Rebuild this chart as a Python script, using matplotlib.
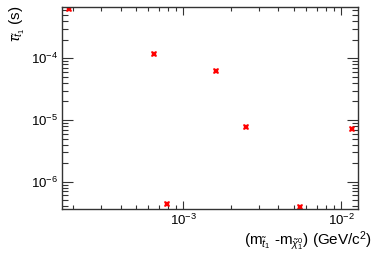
import matplotlib
matplotlib.use('Agg')
import matplotlib.pyplot as plt
from matplotlib.ticker import LogLocator, NullFormatter

plt.rcParams['font.family'] = 'Liberation Sans'
plt.rcParams['mathtext.fontset'] = 'custom'
plt.rcParams['mathtext.rm'] = 'Liberation Sans'
plt.rcParams['mathtext.it'] = 'Liberation Sans:italic'

# mass difference (GeV/c^2) and lifetime (s)
mass_diff = [1.89e-4, 6.49e-4, 7.91e-4, 1.60e-3, 2.49e-3, 5.48e-3, 1.17e-2]
lifetime = [6.22e-4, 1.16e-4, 4.30e-7, 6.15e-5, 7.78e-6, 3.89e-7, 7.06e-6]

W, H = 374, 256
fig = plt.figure(figsize=(W / 100, H / 100), dpi=100)
ax = fig.add_axes([62 / W, 1 - 209 / H, (358 - 62) / W, (209 - 7) / H])

ax.plot(mass_diff, lifetime, linestyle='none', marker='X', markersize=4.5,
        color='red', markeredgewidth=0)

ax.set_xscale('log')
ax.set_yscale('log')
ax.set_xlim(10 ** -3.770, 10 ** -1.893)
ax.set_ylim(10 ** -6.442, 10 ** -3.169)

ax.xaxis.set_major_locator(LogLocator(base=10))
ax.xaxis.set_minor_locator(LogLocator(base=10, subs=range(2, 10)))
ax.xaxis.set_minor_formatter(NullFormatter())
ax.yaxis.set_major_locator(LogLocator(base=10))
ax.yaxis.set_minor_locator(LogLocator(base=10, subs=range(2, 10)))
ax.yaxis.set_minor_formatter(NullFormatter())

ax.tick_params(which='both', direction='in', top=True, right=True,
               labelsize=9.5, color='#333333', width=0.8)
ax.tick_params(axis='x', which='major', length=6, pad=3)
ax.tick_params(axis='x', which='minor', length=3)
ax.tick_params(axis='y', which='major', length=8, pad=3)
ax.tick_params(axis='y', which='minor', length=4)
for s in ax.spines.values():
    s.set_color('#333333')
    s.set_linewidth(1.0)

fig.text(372 / W, 1 - 241 / H,
         r'(m$_{\tilde{t}_1}$ -m$_{\tilde{\chi}^{0}_{1}}$) (GeV/c$^{2}$)',
         ha='right', va='center', fontsize=11)
fig.text(17 / W, 1 - 5 / H, r'$\tau_{\tilde{t}_1}$ (s)', rotation=90,
         ha='center', va='top', fontsize=11)

fig.savefig('out.png', dpi=100)
